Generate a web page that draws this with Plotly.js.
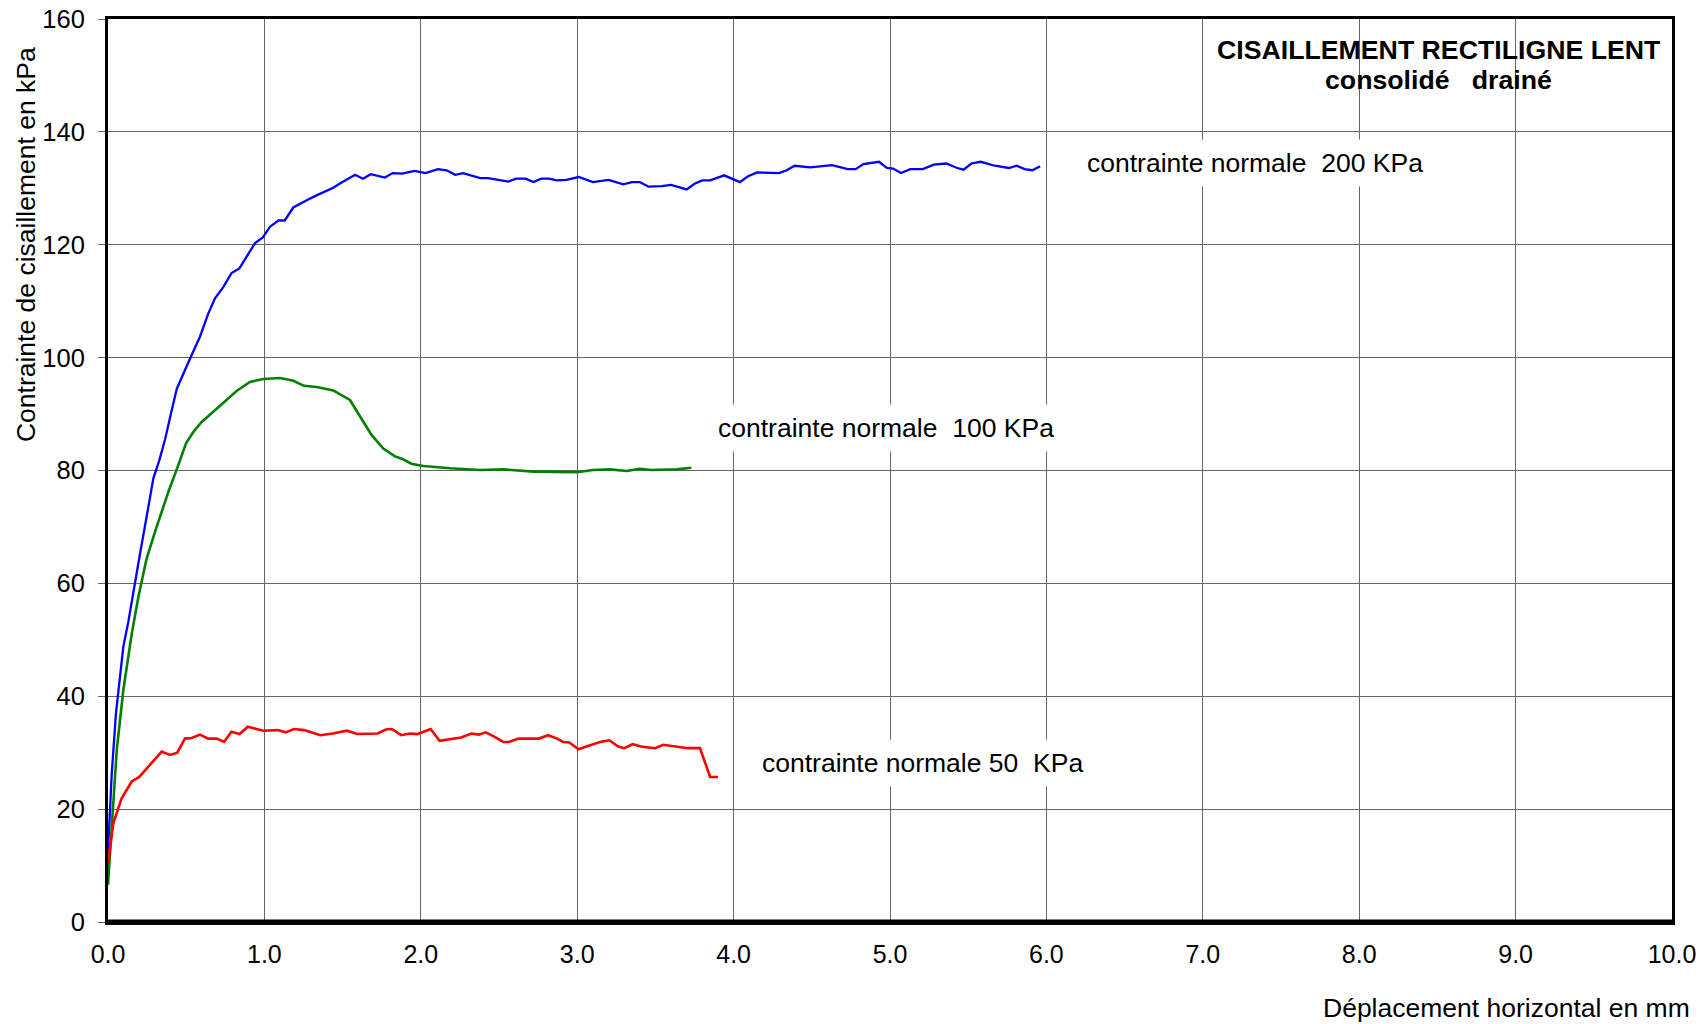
<!DOCTYPE html>
<html>
<head>
<meta charset="utf-8">
<script src="https://cdn.plot.ly/plotly-3.0.1.min.js"></script>
<style>html,body{margin:0;padding:0;background:#fff;}#chart{width:1708px;height:1024px;}</style>
</head>
<body>
<div id="chart"></div>
<script>
// Déplacement horizontal (mm) / Contrainte de cisaillement (kPa)
const blueX = [0, 0.024, 0.051, 0.098, 0.13, 0.173, 0.205, 0.247, 0.29, 0.328, 0.364, 0.40, 0.44, 0.524, 0.588, 0.641, 0.684, 0.737, 0.79, 0.84, 0.887, 0.94, 0.99, 1.036, 1.09, 1.13, 1.185, 1.23, 1.28, 1.33, 1.39, 1.44, 1.48, 1.54, 1.58, 1.63, 1.68, 1.77, 1.82, 1.88, 1.96, 2.03, 2.11, 2.165, 2.22, 2.27, 2.38, 2.43, 2.56, 2.61, 2.67, 2.72, 2.77, 2.82, 2.87, 2.93, 3.01, 3.10, 3.20, 3.295, 3.35, 3.40, 3.455, 3.54, 3.60, 3.70, 3.75, 3.80, 3.85, 3.94, 4.00, 4.04, 4.09, 4.15, 4.29, 4.34, 4.39, 4.49, 4.63, 4.73, 4.78, 4.83, 4.93, 4.98, 5.02, 5.07, 5.13, 5.21, 5.28, 5.36, 5.43, 5.47, 5.52, 5.58, 5.67, 5.76, 5.81, 5.86, 5.91, 5.96];
const blueY = [12.5, 26.3, 37.0, 48.8, 53.2, 60.6, 65.3, 71.8, 78.6, 81.8, 85.4, 89.8, 94.5, 99.8, 103.7, 107.8, 110.5, 112.5, 115, 115.8, 117.9, 120.3, 121.3, 123.2, 124.3, 124.3, 126.6, 127.2, 128, 128.7, 129.4, 130.1, 130.8, 131.8, 132.4, 131.7, 132.5, 131.9, 132.7, 132.6, 133.1, 132.7, 133.4, 133.2, 132.4, 132.7, 131.8, 131.8, 131.2, 131.7, 131.7, 131.1, 131.7, 131.7, 131.4, 131.5, 132.0, 131.1, 131.5, 130.7, 131.1, 131.1, 130.3, 130.4, 130.6, 129.8, 130.8, 131.4, 131.4, 132.3, 131.5, 131.1, 132.1, 132.8, 132.7, 133.2, 134.0, 133.7, 134.1, 133.4, 133.4, 134.3, 134.7, 133.6, 133.5, 132.7, 133.4, 133.4, 134.2, 134.4, 133.6, 133.3, 134.4, 134.7, 134.0, 133.6, 134.0, 133.4, 133.2, 133.9];

const greenX = [0, 0.024, 0.056, 0.098, 0.152, 0.194, 0.247, 0.30, 0.386, 0.45, 0.499, 0.545, 0.599, 0.673, 0.758, 0.822, 0.908, 0.993, 1.10, 1.185, 1.253, 1.334, 1.44, 1.48, 1.547, 1.60, 1.685, 1.76, 1.835, 1.878, 1.94, 2.016, 2.187, 2.379, 2.53, 2.72, 2.93, 3.0, 3.10, 3.21, 3.317, 3.40, 3.476, 3.636, 3.73];
const greenY = [6.6, 16.3, 30.5, 41.1, 51.1, 57.6, 64.4, 69.1, 76.2, 81.0, 84.8, 86.8, 88.6, 90.4, 92.6, 94.1, 95.7, 96.2, 96.4, 95.9, 95.0, 94.8, 94.2, 93.6, 92.5, 90.1, 86.3, 83.9, 82.5, 82.1, 81.2, 80.8, 80.4, 80.1, 80.2, 79.8, 79.8, 79.7, 80.1, 80.2, 79.9, 80.3, 80.1, 80.2, 80.5];

const redX = [0, 0.034, 0.087, 0.152, 0.20, 0.279, 0.343, 0.396, 0.443, 0.492, 0.535, 0.588, 0.641, 0.695, 0.742, 0.789, 0.841, 0.894, 0.993, 1.084, 1.136, 1.189, 1.254, 1.358, 1.437, 1.528, 1.593, 1.724, 1.776, 1.815, 1.875, 1.932, 1.98, 2.063, 2.12, 2.258, 2.324, 2.371, 2.415, 2.467, 2.527, 2.564, 2.624, 2.754, 2.815, 2.872, 2.911, 2.95, 3.008, 3.068, 3.146, 3.206, 3.263, 3.30, 3.355, 3.407, 3.498, 3.55, 3.602, 3.707, 3.785, 3.85, 3.90];
const redY = [10.4, 17.5, 21.9, 24.9, 25.7, 28.1, 30.2, 29.6, 30.0, 32.5, 32.6, 33.2, 32.5, 32.5, 31.9, 33.7, 33.3, 34.6, 33.9, 34.0, 33.6, 34.2, 34.0, 33.1, 33.4, 33.9, 33.3, 33.4, 34.1, 34.2, 33.1, 33.4, 33.3, 34.2, 32.1, 32.7, 33.4, 33.2, 33.6, 32.9, 31.9, 31.9, 32.5, 32.5, 33.1, 32.5, 31.9, 31.8, 30.6, 31.2, 31.9, 32.2, 31.1, 30.8, 31.5, 31.1, 30.8, 31.4, 31.2, 30.8, 30.8, 25.7, 25.7];

const xTickVals = [0, 1, 2, 3, 4, 5, 6, 7, 8, 9, 10];
const xTickText = ["0.0", "1.0", "2.0", "3.0", "4.0", "5.0", "6.0", "7.0", "8.0", "9.0", "10.0"];
const yTickVals = [0, 20, 40, 60, 80, 100, 120, 140, 160];

const seriesLabels = ["contrainte normale\u00A0\u00A0200 KPa", "contrainte normale\u00A0\u00A0100 KPa", "contrainte normale 50\u00A0\u00A0KPa"];
const labelX = [6.26, 3.90, 4.18];
const labelY = [134.4, 87.5, 28.2];

const FONT = "'Liberation Sans', Arial, sans-serif";

const traces = [
  {x: blueX, y: blueY, mode: 'lines', line: {color: '#0000FF', width: 2.3}, name: seriesLabels[0]},
  {x: greenX, y: greenY, mode: 'lines', line: {color: '#008000', width: 2.6}, name: seriesLabels[1]},
  {x: redX, y: redY, mode: 'lines', line: {color: '#FF0000', width: 2.6}, name: seriesLabels[2]}
];

const annotations = seriesLabels.map((t, i) => ({
  x: labelX[i], y: labelY[i], xref: 'x', yref: 'y', text: t, showarrow: false,
  xanchor: 'left', yanchor: 'middle', bgcolor: '#FFFFFF', borderpad: 8, xshift: -9,
  font: {family: FONT, size: 26.5, color: '#000'}
}));

annotations.push({
  xref: 'paper', yref: 'paper', x: 0.851, y: 0.9662, xanchor: 'center', yanchor: 'middle',
  text: '<b>CISAILLEMENT RECTILIGNE LENT</b>', showarrow: false,
  font: {family: FONT, size: 26.7, color: '#000'}
});
annotations.push({
  xref: 'paper', yref: 'paper', x: 0.851, y: 0.9325, xanchor: 'center', yanchor: 'middle',
  text: '<b>consolidé\u00A0\u00A0\u00A0drainé</b>', showarrow: false,
  font: {family: FONT, size: 26.7, color: '#000'}
});
annotations.push({
  xref: 'paper', yref: 'paper', x: -0.0524, y: 0.7497, xanchor: 'center', yanchor: 'middle',
  text: 'Contrainte de cisaillement en kPa', textangle: -90, showarrow: false,
  font: {family: FONT, size: 26.5, color: '#000'}
});
annotations.push({
  xref: 'paper', yref: 'paper', x: 1.0128, y: -0.0948, xanchor: 'right', yanchor: 'middle',
  text: 'Déplacement horizontal en mm', showarrow: false,
  font: {family: FONT, size: 26.5, color: '#000'}
});

const layout = {
  width: 1708, height: 1024,
  margin: {l: 108, r: 36, t: 19, b: 102},
  paper_bgcolor: '#FFFFFF', plot_bgcolor: '#FFFFFF',
  showlegend: false,
  font: {family: FONT, size: 25, color: '#000'},
  xaxis: {
    range: [0, 10], tickvals: xTickVals, ticktext: xTickText,
    showgrid: true, gridcolor: '#666666', gridwidth: 1,
    zeroline: false, showline: true, linecolor: '#000', linewidth: 3, mirror: true,
    ticks: '', ticklabelstandoff: 8,
    tickfont: {family: FONT, size: 25, color: '#000'}
  },
  yaxis: {
    range: [0, 160], tickvals: yTickVals,
    showgrid: true, gridcolor: '#666666', gridwidth: 1,
    zeroline: false, showline: true, linecolor: '#000', linewidth: 3, mirror: true,
    ticks: 'outside', ticklen: 7, tickcolor: '#666666', tickwidth: 1, ticklabelstandoff: 8,
    tickfont: {family: FONT, size: 25.5, color: '#000'}
  },
  shapes: [
    {type: 'line', xref: 'paper', yref: 'paper', x0: 0, x1: 1, y0: 0, y1: 0, line: {color: '#000', width: 5}}
  ],
  annotations: annotations
};

Plotly.newPlot('chart', traces, layout, {displayModeBar: false, staticPlot: true});
</script>
</body>
</html>
